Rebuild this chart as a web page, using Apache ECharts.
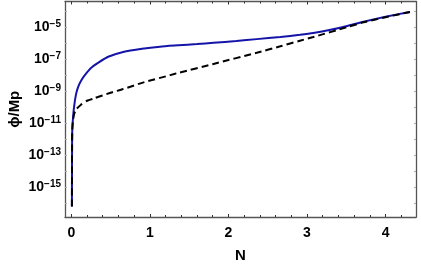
<!DOCTYPE html>
<html>
<head>
<meta charset="utf-8">
<script src="https://cdn.jsdelivr.net/npm/echarts@6/dist/echarts.min.js"></script>
<style>html,body{margin:0;padding:0;background:#fff}#c{width:421px;height:266px}</style>
</head>
<body>
<div id="c"></div>
<script>
// Data: N values and log10(phi/Mp)
const blueN      = [0.008, 0.009, 0.010, 0.012, 0.02, 0.035, 0.06, 0.09, 0.13, 0.18, 0.25, 0.35, 0.47, 0.66, 0.9, 1.13, 1.36, 1.6, 1.81, 2.1, 2.36, 2.66, 2.91, 3.08, 3.3, 3.51, 3.72, 4.0, 4.31];
const blueLogPhi = [-16.2, -14.0, -12.5, -11.5, -10.8, -10.0, -9.2, -8.7, -8.3, -7.95, -7.55, -7.2, -6.85, -6.55, -6.35, -6.22, -6.14, -6.06, -5.98, -5.87, -5.75, -5.62, -5.48, -5.37, -5.17, -4.93, -4.66, -4.35, -4.05];
const blackN      = [0.008, 0.009, 0.010, 0.012, 0.02, 0.035, 0.06, 0.12, 0.2, 0.29, 0.5, 0.66, 0.92, 1.26, 1.36, 1.81, 2.36, 2.66, 2.91, 3.08, 3.51, 3.72, 4.0, 4.31];
const blackLogPhi = [-16.2, -14.0, -12.5, -11.5, -10.9, -10.45, -10.15, -9.86, -9.6, -9.45, -9.1, -8.87, -8.45, -8.0, -7.86, -7.3, -6.6, -6.2, -5.85, -5.62, -5.0, -4.7, -4.38, -4.05];
const xTickLabels = [0, 1, 2, 3, 4];
const xMinorTicks = [0.2,0.4,0.6,0.8,1.2,1.4,1.6,1.8,2.2,2.4,2.6,2.8,3.2,3.4,3.6,3.8,4.2];
const yTickExponents = [-15, -13, -11, -9, -7, -5];
const yAllTicks = [-16,-15,-14,-13,-12,-11,-10,-9,-8,-7,-6,-5,-4];

const FONT = 'Liberation Sans, Arial, sans-serif';
const frame = {show: true, onZero: false, lineStyle: {color: '#555', width: 1.3}};
const noLine = {show: false, onZero: false};
const X_MIN = -0.08, X_MAX = 4.387, Y_MIN = -16.86, Y_MAX = -3.4;

function xAx(pos, ticks, len, showLine, extra) {
  return Object.assign({
    type: 'value', position: pos, min: X_MIN, max: X_MAX,
    axisLine: showLine ? frame : noLine,
    axisTick: {show: true, inside: true, length: len, customValues: ticks, lineStyle: {color: '#333', width: 1}},
    axisLabel: {show: false}, splitLine: {show: false}
  }, extra || {});
}
function yAx(pos, showLine, extra) {
  return Object.assign({
    type: 'value', position: pos, min: Y_MIN, max: Y_MAX,
    axisLine: showLine ? frame : noLine,
    axisTick: {show: true, inside: true, length: 2, customValues: yAllTicks, lineStyle: {color: '#aaa', width: 1}},
    axisLabel: {show: false}, splitLine: {show: false}
  }, extra || {});
}

const chart = echarts.init(document.getElementById('c'), null, {renderer: 'canvas'});
chart.setOption({
  animation: false,
  grid: {left: 65, right: 5, top: 1.5, bottom: 49, containLabel: false, outerBoundsMode: 'none'},
  xAxis: [
    xAx('bottom', xTickLabels, 3, true, {
      name: 'N', nameLocation: 'middle', nameGap: 31, nameMoveOverlap: false,
      nameTextStyle: {fontFamily: FONT, fontWeight: 'bold', fontSize: 15, color: '#000'},
      axisLabel: {show: true, customValues: xTickLabels, margin: 9, fontFamily: FONT, fontWeight: 'bold', fontSize: 14, color: '#000'}
    }),
    xAx('bottom', xMinorTicks, 2, false),
    xAx('top', xTickLabels, 3, true),
    xAx('top', xMinorTicks, 2, false)
  ],
  yAxis: [
    yAx('left', true, {
      name: 'ϕ/Mp', nameLocation: 'middle', nameGap: 43, nameRotate: 90, nameMoveOverlap: false,
      nameTextStyle: {fontFamily: FONT, fontWeight: 'bold', fontSize: 15, color: '#000'},
      axisLabel: {
        show: true, customValues: yTickExponents, margin: 4,
        formatter: v => '{b|10}{s|−' + (-v) + '}',
        rich: {
          b: {fontFamily: FONT, fontWeight: 'bold', fontSize: 14, color: '#000', lineHeight: 16},
          s: {fontFamily: FONT, fontWeight: 'bold', fontSize: 10, color: '#000', verticalAlign: 'top', lineHeight: 16, padding: [0, 0, 9, 0]}
        }
      }
    }),
    yAx('right', true)
  ],
  series: [
    {
      type: 'line', xAxisIndex: 0, yAxisIndex: 0, showSymbol: false, symbol: 'none', smooth: 0.2,
      lineStyle: {color: '#1414a8', width: 2}, z: 2,
      data: blueN.map((n, i) => [n, blueLogPhi[i]])
    },
    {
      type: 'line', xAxisIndex: 0, yAxisIndex: 0, showSymbol: false, symbol: 'none', smooth: 0.2,
      lineStyle: {color: '#000', width: 2, type: [7, 4]}, z: 3,
      data: blackN.map((n, i) => [n, blackLogPhi[i]])
    }
  ]
});
</script>
</body>
</html>
